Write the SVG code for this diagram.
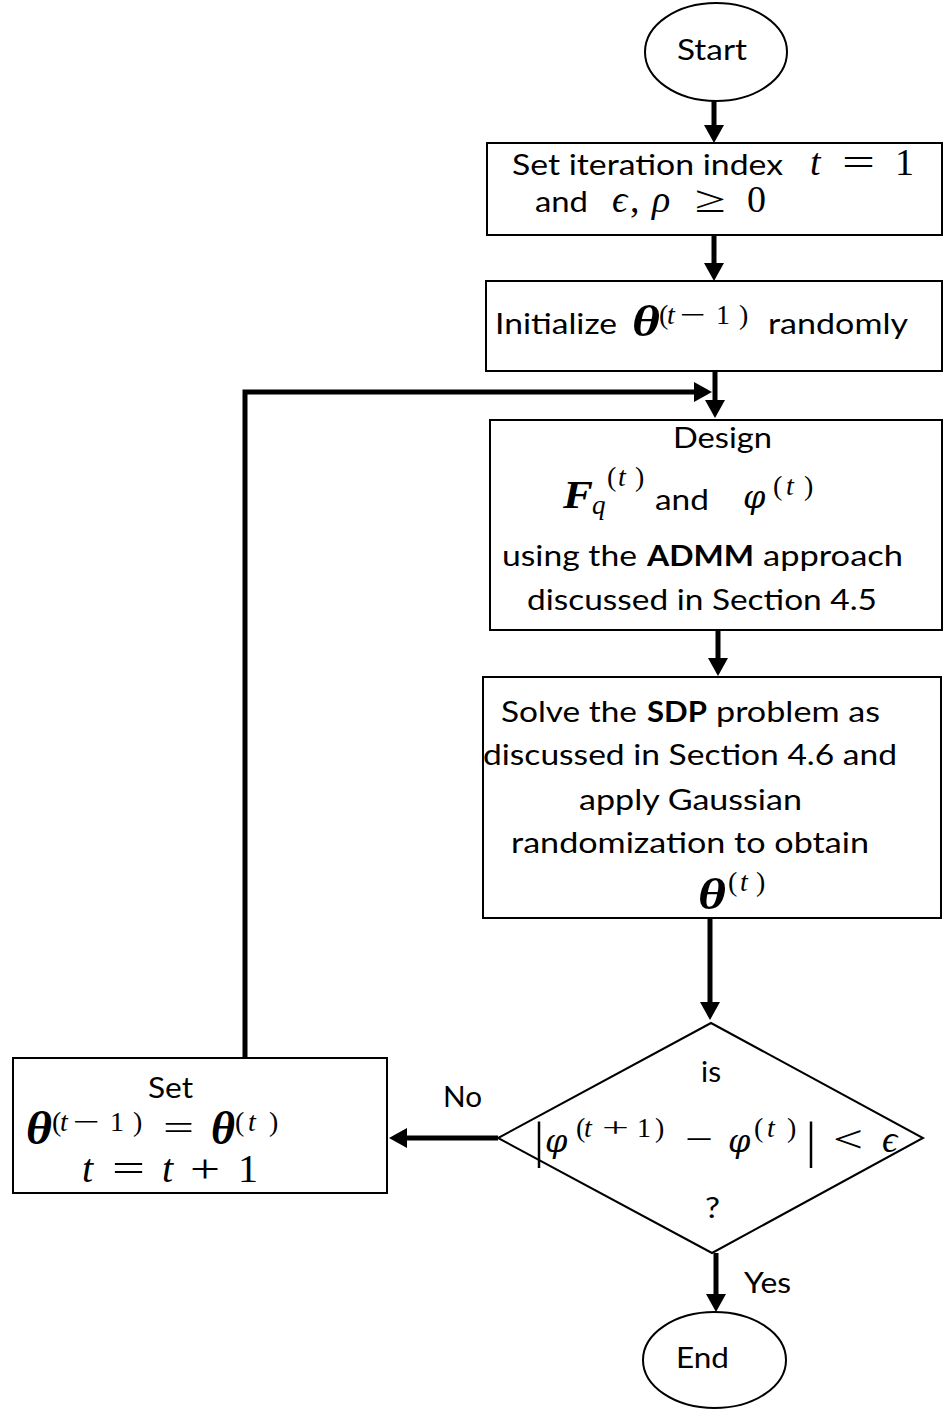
<svg xmlns="http://www.w3.org/2000/svg" width="944" height="1409" viewBox="0 0 944 1409">
  <defs>
    <style>
      .shape { fill: #fff; stroke: #000; stroke-width: 2; }
      .wire { fill: none; stroke: #000; stroke-width: 5; stroke-linejoin: miter; }
      .t { font-family: Lato, "Open Sans", sans-serif; font-size: 28px; fill: #000; }
      .b { font-weight: bold; }
      .m { font-family: "Liberation Serif", "DejaVu Serif", serif; font-style: italic; fill: #000; }
      .sup { font-size: 28px; }
      .phi { font-family: "DejaVu Serif", "Liberation Serif", serif; font-style: italic; fill: #000; font-size: 32px; }
      .rm { font-style: normal; }
      .bm { font-weight: bold; font-style: italic; }
    </style>
    <marker id="head" viewBox="0 0 18 20" refX="6" refY="10" markerWidth="18" markerHeight="20" markerUnits="userSpaceOnUse" orient="auto">
      <path d="M0,0 L18,10 L0,20 z" fill="#000"/>
    </marker>
  </defs>

  <rect width="944" height="1409" fill="#fff"/>

  <!-- connectors -->
  <g id="connectors">
    <path class="wire" d="M714,101 V131" marker-end="url(#head)"/>
    <path class="wire" d="M714,235 V269" marker-end="url(#head)"/>
    <path class="wire" d="M715,372 V406" marker-end="url(#head)"/>
    <path class="wire" d="M245,1058 V392 H700" marker-end="url(#head)"/>
    <path class="wire" d="M718,631 V664" marker-end="url(#head)"/>
    <path class="wire" d="M710,919 V1008" marker-end="url(#head)"/>
    <path class="wire" d="M498,1138 H401" marker-end="url(#head)"/>
    <path class="wire" d="M716,1253 V1300" marker-end="url(#head)"/>
    <text class="t" x="443" y="1107" textLength="39" lengthAdjust="spacingAndGlyphs">No</text>
    <text class="t" x="744" y="1293" font-size="29" textLength="47" lengthAdjust="spacingAndGlyphs">Yes</text>
  </g>

  <!-- start terminal -->
  <g id="start">
    <ellipse class="shape" cx="716" cy="52" rx="71" ry="49"/>
    <text class="t" x="677" y="60" font-size="30" textLength="70" lengthAdjust="spacingAndGlyphs">Start</text>
  </g>

  <!-- initial parameters -->
  <g id="set-index">
    <rect class="shape" x="487" y="143" width="455" height="92"/>
    <text class="t" x="512" y="175" textLength="271" lengthAdjust="spacingAndGlyphs">Set iteration index</text>
    <text class="m" y="175" font-size="38">
      <tspan x="810">t</tspan><tspan class="rm" x="842" textLength="33" lengthAdjust="spacingAndGlyphs">=</tspan><tspan class="rm" x="895">1</tspan>
    </text>
    <text class="t" x="535" y="212" textLength="53" lengthAdjust="spacingAndGlyphs">and</text>
    <text class="m" y="212" font-size="38">
      <tspan x="612">ϵ</tspan><tspan class="rm" x="630">,</tspan><tspan x="652">ρ</tspan><tspan class="rm" x="695" textLength="31" lengthAdjust="spacingAndGlyphs">≥</tspan><tspan class="rm" x="747">0</tspan>
    </text>
  </g>

  <!-- random initialisation -->
  <g id="initialize">
    <rect class="shape" x="486" y="281" width="456" height="90"/>
    <text class="t" x="495" y="334" font-size="29" textLength="122" lengthAdjust="spacingAndGlyphs">Initialize</text>
    <text class="m bm" x="632" y="336" font-size="44" textLength="28" lengthAdjust="spacingAndGlyphs">θ</text>
    <text class="m sup" y="324"><tspan class="rm" x="659">(</tspan><tspan x="667">t</tspan><tspan class="rm" x="680" textLength="26" lengthAdjust="spacingAndGlyphs">−</tspan><tspan class="rm" x="716">1</tspan><tspan class="rm" x="739">)</tspan></text>
    <text class="t" x="768" y="334" font-size="29" textLength="140" lengthAdjust="spacingAndGlyphs">randomly</text>
  </g>

  <!-- ADMM design step -->
  <g id="design">
    <rect class="shape" x="490" y="420" width="452" height="210"/>
    <text class="t" x="673" y="448" font-size="26" textLength="99" lengthAdjust="spacingAndGlyphs">Design</text>
    <text class="m bm" x="563" y="508" font-size="40" textLength="30" lengthAdjust="spacingAndGlyphs">F</text>
    <text class="m" x="592" y="514" font-size="27">q</text>
    <text class="m sup" y="486"><tspan class="rm" x="607">(</tspan><tspan x="618">t</tspan><tspan class="rm" x="635">)</tspan></text>
    <text class="t" x="655" y="510" font-size="26" textLength="54" lengthAdjust="spacingAndGlyphs">and</text>
    <text class="phi" x="743" y="508">φ</text>
    <text class="m sup" y="495"><tspan class="rm" x="773">(</tspan><tspan x="786">t</tspan><tspan class="rm" x="804">)</tspan></text>
    <text class="t" y="566" font-size="27">
      <tspan x="502" textLength="135" lengthAdjust="spacingAndGlyphs">using the</tspan><tspan class="b" x="647" textLength="107" lengthAdjust="spacingAndGlyphs">ADMM</tspan><tspan x="763" textLength="140" lengthAdjust="spacingAndGlyphs">approach</tspan>
    </text>
    <text class="t" x="527" y="610" font-size="27" textLength="350" lengthAdjust="spacingAndGlyphs">discussed in Section 4.5</text>
  </g>

  <!-- SDP step -->
  <g id="sdp">
    <rect class="shape" x="483" y="677" width="458" height="241"/>
    <text class="t" y="722">
      <tspan x="501" textLength="136" lengthAdjust="spacingAndGlyphs">Solve the</tspan><tspan class="b" x="647" textLength="60" lengthAdjust="spacingAndGlyphs">SDP</tspan><tspan x="716" textLength="164" lengthAdjust="spacingAndGlyphs">problem as</tspan>
    </text>
    <text class="t" x="483" y="765" textLength="414" lengthAdjust="spacingAndGlyphs">discussed in Section 4.6 and</text>
    <text class="t" x="579" y="810" textLength="223" lengthAdjust="spacingAndGlyphs">apply Gaussian</text>
    <text class="t" x="511" y="853" textLength="358" lengthAdjust="spacingAndGlyphs">randomization to obtain</text>
    <text class="m bm" x="698" y="909" font-size="44" textLength="28" lengthAdjust="spacingAndGlyphs">θ</text>
    <text class="m sup" y="891"><tspan class="rm" x="728">(</tspan><tspan x="740">t</tspan><tspan class="rm" x="756">)</tspan></text>
  </g>

  <!-- convergence test -->
  <g id="check">
    <polygon class="shape" points="711,1023 923,1138 712,1253 498,1138"/>
    <text class="t" x="701" y="1082" font-size="27" textLength="20" lengthAdjust="spacingAndGlyphs">is</text>
    <text class="m rm" x="534" y="1157" font-size="50">|</text>
    <text class="phi" x="545" y="1152">φ</text>
    <text class="m sup" y="1137"><tspan class="rm" x="576">(</tspan><tspan x="584">t</tspan><tspan class="rm" x="602" textLength="27" lengthAdjust="spacingAndGlyphs">+</tspan><tspan class="rm" x="637">1</tspan><tspan class="rm" x="655">)</tspan></text>
    <text class="m rm" x="685" y="1152" font-size="38" textLength="28" lengthAdjust="spacingAndGlyphs">−</text>
    <text class="phi" x="728" y="1152">φ</text>
    <text class="m sup" y="1137"><tspan class="rm" x="754">(</tspan><tspan x="767">t</tspan><tspan class="rm" x="787">)</tspan></text>
    <text class="m rm" x="806" y="1157" font-size="50">|</text>
    <text class="m rm" x="833" y="1152" font-size="38" textLength="30" lengthAdjust="spacingAndGlyphs">&lt;</text>
    <text class="m" x="882" y="1152" font-size="38">ϵ</text>
    <text class="t" x="705" y="1218" font-size="27" textLength="15" lengthAdjust="spacingAndGlyphs">?</text>
  </g>

  <!-- update step -->
  <g id="update">
    <rect class="shape" x="13" y="1058" width="374" height="135"/>
    <text class="t" x="148" y="1098" font-size="24" textLength="45" lengthAdjust="spacingAndGlyphs">Set</text>
    <text class="m bm" x="26" y="1144" font-size="46" textLength="26" lengthAdjust="spacingAndGlyphs">θ</text>
    <text class="m sup" y="1131"><tspan class="rm" x="52">(</tspan><tspan x="60">t</tspan><tspan class="rm" x="73" textLength="27" lengthAdjust="spacingAndGlyphs">−</tspan><tspan class="rm" x="110">1</tspan><tspan class="rm" x="133">)</tspan></text>
    <text class="m rm" x="163" y="1140" font-size="36" textLength="31" lengthAdjust="spacingAndGlyphs">=</text>
    <text class="m bm" x="211" y="1144" font-size="46" textLength="24" lengthAdjust="spacingAndGlyphs">θ</text>
    <text class="m sup" y="1131"><tspan class="rm" x="235">(</tspan><tspan x="248">t</tspan><tspan class="rm" x="269">)</tspan></text>
    <text class="m" y="1182" font-size="40">
      <tspan x="82">t</tspan><tspan class="rm" x="112" textLength="33" lengthAdjust="spacingAndGlyphs">=</tspan><tspan x="162">t</tspan><tspan class="rm" x="190" textLength="30" lengthAdjust="spacingAndGlyphs">+</tspan><tspan class="rm" x="238">1</tspan>
    </text>
  </g>

  <!-- end terminal -->
  <g id="end">
    <ellipse class="shape" cx="714.5" cy="1360" rx="71.5" ry="48"/>
    <text class="t" x="676" y="1368" font-size="30" textLength="53" lengthAdjust="spacingAndGlyphs">End</text>
  </g>
</svg>
